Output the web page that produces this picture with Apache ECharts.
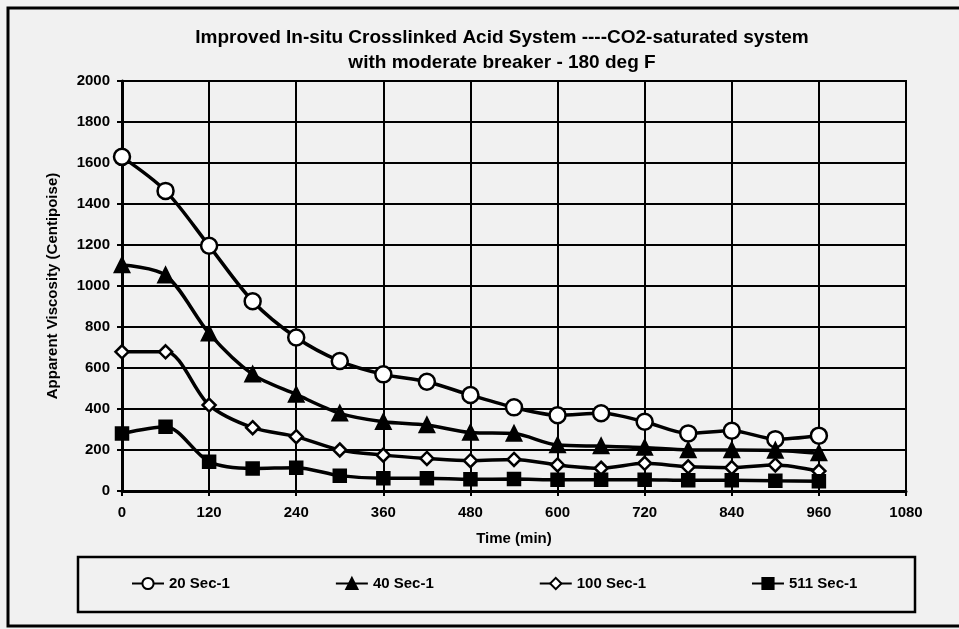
<!DOCTYPE html>
<html>
<head>
<meta charset="utf-8">
<script src="https://cdn.jsdelivr.net/npm/echarts@6/dist/echarts.min.js"></script>
<style>
  html, body { margin: 0; padding: 0; background: #f1f1f1; }
  #chart { width: 959px; height: 629px; }
</style>
</head>
<body>
<div id="chart"></div>
<script>
// time in minutes, one reading every hour
const times = [0, 60, 120, 180, 240, 300, 360, 420, 480, 540, 600, 660, 720, 780, 840, 900, 960];

// apparent viscosity (cP) at each shear rate
const visc20 = [1630, 1464, 1196, 926, 749, 634, 569, 533, 468, 408, 370, 379, 338, 281, 294, 253, 270];
const visc40 = [1102, 1053, 769, 569, 471, 379, 338, 322, 285, 280, 224, 219, 212, 200, 200, 198, 185];
const visc100 = [679, 679, 419, 309, 265, 200, 175, 159, 148, 154, 127, 111, 135, 118, 114, 127, 97];
const visc511 = [281, 314, 143, 110, 114, 75, 62, 62, 57, 58, 55, 55, 55, 52, 52, 50, 48];

const seriesNames = ['20 Sec-1', '40 Sec-1', '100 Sec-1', '511 Sec-1'];

(function () {
  const chart = echarts.init(document.getElementById('chart'));
  const font = 'Liberation Sans, Arial, sans-serif';

  const pairs = vals => times.map((t, i) => [t, vals[i]]);
  const plain = v => String(v); // no thousands separator, as in the original

  const makeSeries = (name, vals, symbol, size, fill) => ({
    name: name,
    type: 'line',
    data: pairs(vals),
    smooth: 0.3,
    symbol: symbol,
    symbolSize: size,
    showAllSymbol: true,
    lineStyle: { color: '#000', width: 3.5 },
    itemStyle: { color: fill, borderColor: '#000', borderWidth: 2.5 },
    emphasis: { disabled: true },
    z: 3
  });

  chart.setOption({
    backgroundColor: '#f1f1f1',
    animation: false,
    title: {
      text: 'Improved In-situ Crosslinked Acid System ----CO2-saturated system\nwith moderate breaker - 180 deg F',
      left: 497, // centre point, because textAlign is centre
      top: 20,
      textAlign: 'center',
      textStyle: {
        fontFamily: font,
        fontSize: 19,
        fontWeight: 'bold',
        color: '#000',
        lineHeight: 25
      }
    },
    grid: {
      left: 122,
      right: 53,
      top: 81,
      bottom: 138,
      show: true,
      borderColor: '#000',
      borderWidth: 2,
      backgroundColor: 'transparent'
    },
    legend: {
      data: seriesNames,
      left: 131,
      top: 576,
      padding: 0,
      itemGap: 105,
      itemWidth: 32,
      itemHeight: 14,
      textStyle: { fontFamily: font, fontSize: 15, fontWeight: 'bold', color: '#000' }
    },
    xAxis: {
      type: 'value',
      min: 0,
      max: 1080,
      interval: 120,
      name: 'Time (min)',
      nameLocation: 'middle',
      nameGap: 40,
      nameTextStyle: { fontFamily: font, fontSize: 15, fontWeight: 'bold', color: '#000' },
      axisLine: { lineStyle: { color: '#000', width: 3 } },
      axisTick: { show: true, length: 5, lineStyle: { color: '#000', width: 2 } },
      axisLabel: { margin: 14, fontFamily: font, fontSize: 15, fontWeight: 'bold', color: '#000', formatter: plain },
      splitLine: { show: true, lineStyle: { color: '#000', width: 2 } }
    },
    yAxis: {
      type: 'value',
      min: 0,
      max: 2000,
      interval: 200,
      name: 'Apparent Viscosity (Centipoise)',
      nameLocation: 'middle',
      nameGap: 62,
      nameTextStyle: { fontFamily: font, fontSize: 15, fontWeight: 'bold', color: '#000' },
      axisLine: { show: true, lineStyle: { color: '#000', width: 3 } },
      axisTick: { show: true, length: 5, lineStyle: { color: '#000', width: 2 } },
      axisLabel: { margin: 12, fontFamily: font, fontSize: 15, fontWeight: 'bold', color: '#000', formatter: plain },
      splitLine: { show: true, lineStyle: { color: '#000', width: 2 } }
    },
    graphic: [
      {
        type: 'rect',
        shape: { x: 8, y: 8, width: 960, height: 618 },
        style: { fill: 'none', stroke: '#000', lineWidth: 3 },
        silent: true
      },
      {
        type: 'rect',
        shape: { x: 78, y: 557, width: 837, height: 55 },
        style: { fill: 'none', stroke: '#000', lineWidth: 2.5 },
        silent: true
      }
    ],
    series: [
      makeSeries(seriesNames[0], visc20, 'circle', 16, '#fff'),
      makeSeries(seriesNames[1], visc40, 'triangle', 14, '#000'),
      makeSeries(seriesNames[2], visc100, 'diamond', 13, '#fff'),
      makeSeries(seriesNames[3], visc511, 'rect', 12, '#000')
    ]
  });

  window.addEventListener('resize', () => chart.resize());
})();
</script>
</body>
</html>
